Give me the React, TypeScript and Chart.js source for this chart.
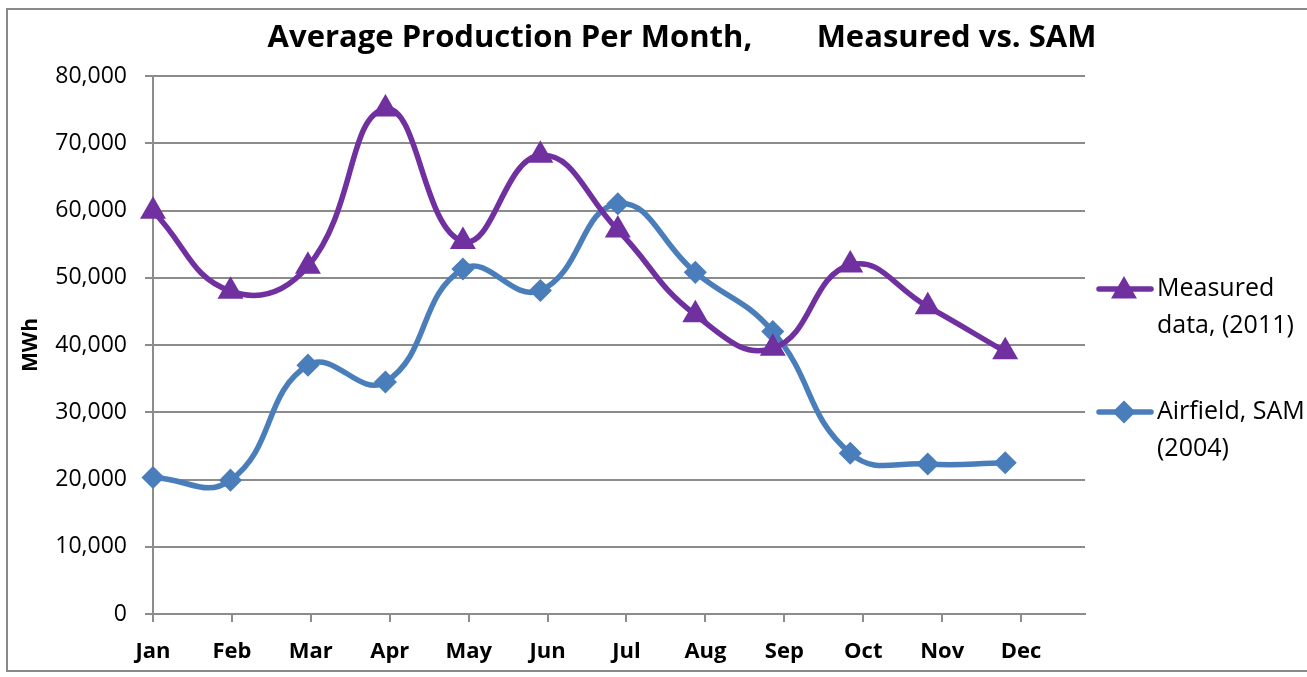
import React, { useEffect, useRef } from 'react';
import { Chart, registerables } from 'chart.js';

Chart.register(...registerables);

const months = ['Jan', 'Feb', 'Mar', 'Apr', 'May', 'Jun', 'Jul', 'Aug', 'Sep', 'Oct', 'Nov', 'Dec'];
const monthIndex = [0, 1, 2, 3, 4, 5, 6, 7, 8, 9, 10, 11];
const measured = [59900, 48000, 51700, 75100, 55400, 68200, 57100, 44500, 39500, 51900, 45700, 39000];
const airfield = [20300, 19900, 37000, 34500, 51300, 48100, 61000, 50800, 42000, 23900, 22300, 22500];
const seriesNames = ['Measured data, (2011)', 'Airfield, SAM (2004)'];
const legendLines = [
  ['Measured', 'data, (2011)'],
  ['Airfield, SAM', '(2004)'],
];
const titleText = 'Average Production Per Month,        Measured vs. SAM';
const yTitle = 'MWh';

const PURPLE = '#7030A0';
const BLUE = '#4A7EBB';
const GRID = '#8C8C8C';
const FONT = "'Open Sans', 'DejaVu Sans', sans-serif";

function drawShape(ctx: CanvasRenderingContext2D, style: string, x: number, y: number, r: number, color: string) {
  ctx.save();
  ctx.fillStyle = color;
  ctx.strokeStyle = color;
  ctx.lineWidth = 1.5;
  ctx.beginPath();
  if (style === 'triangle') {
    ctx.moveTo(x, y - r);
    ctx.lineTo(x + r * 0.866, y + r * 0.5);
    ctx.lineTo(x - r * 0.866, y + r * 0.5);
  } else {
    ctx.moveTo(x, y - r);
    ctx.lineTo(x + r, y);
    ctx.lineTo(x, y + r);
    ctx.lineTo(x - r, y);
  }
  ctx.closePath();
  ctx.fill();
  ctx.stroke();
  ctx.restore();
}

const decorPlugin = {
  id: 'decor',
  beforeDraw(chart: any) {
    const ctx = chart.ctx as CanvasRenderingContext2D;
    ctx.save();
    ctx.fillStyle = '#ffffff';
    ctx.fillRect(0, 0, chart.width, chart.height);
    ctx.strokeStyle = '#8A8A8A';
    ctx.lineWidth = 2;
    ctx.strokeRect(7, 9, chart.width + 20, chart.height - 15);
    ctx.restore();
  },
  afterDraw(chart: any) {
    const ctx = chart.ctx as CanvasRenderingContext2D;
    const area = chart.chartArea;
    ctx.save();
    // title
    ctx.fillStyle = '#000';
    ctx.font = `bold 31px ${FONT}`;
    ctx.textAlign = 'center';
    ctx.textBaseline = 'middle';
    ctx.fillText(titleText, 682, 38);
    // y title
    ctx.save();
    ctx.translate(31, (area.top + area.bottom) / 2);
    ctx.rotate(-Math.PI / 2);
    ctx.font = `bold 21px ${FONT}`;
    ctx.fillText(yTitle, 0, 0);
    ctx.restore();
    // legend
    const items = chart.data.datasets;
    const startY = [289, 412];
    items.forEach((ds: any, i: number) => {
      const y = startY[i];
      ctx.strokeStyle = ds.borderColor;
      ctx.lineWidth = 5.5;
      ctx.lineCap = 'round';
      ctx.beginPath();
      ctx.moveTo(1099, y);
      ctx.lineTo(1151, y);
      ctx.stroke();
      drawShape(ctx, ds.pointStyle, 1124, ds.pointStyle === 'triangle' ? y + 2 : y, ds.pointRadius, ds.borderColor);
      ctx.fillStyle = '#000';
      ctx.font = `25px ${FONT}`;
      ctx.textAlign = 'left';
      ctx.textBaseline = 'middle';
      legendLines[i].forEach((line, j) => {
        ctx.fillText(line, 1157, y + j * 37);
      });
    });
    ctx.restore();
  },
};

export default function App() {
  const ref = useRef<HTMLCanvasElement>(null);
  useEffect(() => {
    if (!ref.current) return;
    const chart = new Chart(ref.current, {
      type: 'line',
      data: {
        datasets: [
          {
            label: seriesNames[0],
            data: monthIndex.map((m, i) => ({ x: m, y: measured[i] })),
            borderColor: PURPLE,
            backgroundColor: PURPLE,
            pointBackgroundColor: PURPLE,
            pointBorderColor: PURPLE,
            pointBorderWidth: 1.5,
            pointStyle: 'triangle',
            pointRadius: 13.5,
            borderWidth: 5.5,
            tension: 0.45,
            clip: false,
            xAxisID: 'x',
            yAxisID: 'y',
          },
          {
            label: seriesNames[1],
            data: monthIndex.map((m, i) => ({ x: m, y: airfield[i] })),
            borderColor: BLUE,
            backgroundColor: BLUE,
            pointBackgroundColor: BLUE,
            pointBorderColor: BLUE,
            pointBorderWidth: 1.5,
            pointStyle: 'rectRot',
            pointRadius: 10.5,
            borderWidth: 5.5,
            tension: 0.45,
            clip: false,
            xAxisID: 'x',
            yAxisID: 'y',
          },
        ],
      },
      options: {
        animation: false,
        responsive: false,
        layout: { padding: { top: 76, right: 222, bottom: 0, left: 0 } },
        plugins: {
          legend: { display: false },
          title: { display: false },
          tooltip: { enabled: false },
        },
        scales: {
          x: {
            type: 'linear',
            display: false,
            min: 0,
            max: 12.03,
          },
          xl: {
            type: 'linear',
            position: 'bottom',
            min: 0,
            max: 11.81,
            afterFit: (s: any) => { s.height = 63; },
            afterBuildTicks: (s: any) => {
              s.ticks = monthIndex.map((v) => ({ value: v }));
            },
            ticks: {
              autoSkip: false,
              maxRotation: 0,
              padding: 17,
              color: '#000',
              font: { family: FONT, size: 22, weight: 'bold' },
              callback: (v: any) => months[Math.round(v)] ?? '',
            },
            grid: { drawOnChartArea: false, color: GRID, tickLength: 8, lineWidth: 2 },
            border: { display: true, color: GRID, width: 2 },
          },
          y: {
            type: 'linear',
            min: 0,
            max: 80000,
            afterFit: (s: any) => { s.width = 153; },
            ticks: {
              stepSize: 10000,
              padding: 18,
              color: '#000',
              font: { family: FONT, size: 23 },
              callback: (v: any) => Number(v).toLocaleString('en-US'),
            },
            grid: { color: GRID, tickLength: 8, lineWidth: 2 },
            border: { display: true, color: GRID, width: 2 },
          },
        },
      },
      plugins: [decorPlugin],
    });
    return () => chart.destroy();
  }, []);
  return (
    <div style={{ position: 'fixed', left: 0, top: 0, width: 1307, height: 677, background: '#fff' }}>
      <canvas ref={ref} width={1307} height={677} />
    </div>
  );
}
